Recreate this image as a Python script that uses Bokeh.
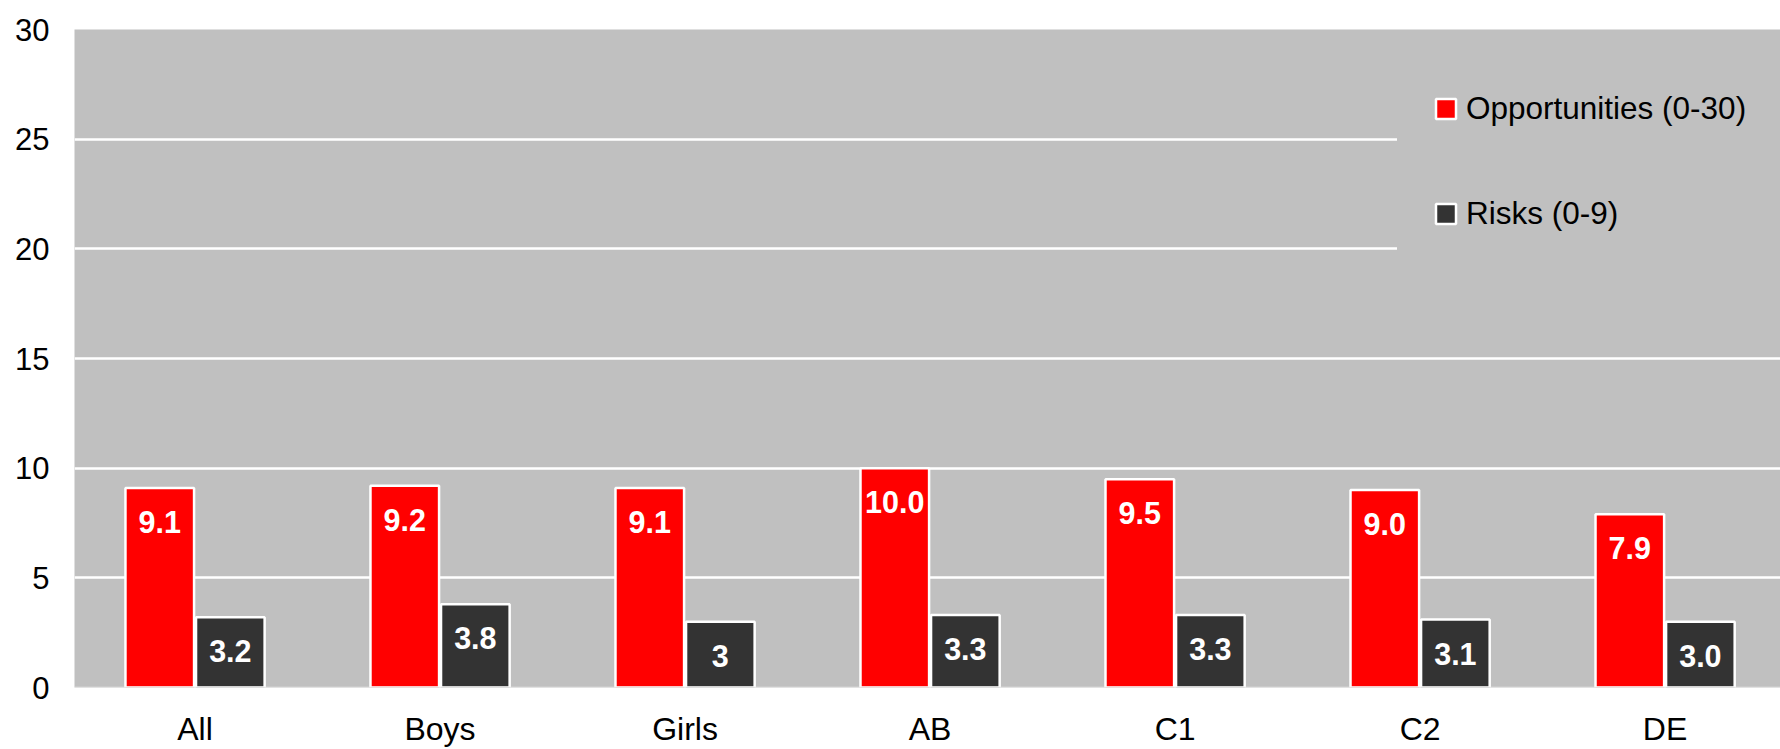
import numpy as np
from bokeh.plotting import figure
from bokeh.models import (ColumnDataSource, Range1d, Legend, LegendItem,
                          Span, FixedTicker)
from bokeh.core.properties import value
from bokeh.embed import file_html
from bokeh.resources import INLINE

# Mean number of online opportunities and risks, by group
groups = ["All", "Boys", "Girls", "AB", "C1", "C2", "DE"]
opportunities = [9.1, 9.2, 9.1, 10.0, 9.5, 9.0, 7.9]
risks = [3.2, 3.8, 3.0, 3.3, 3.3, 3.1, 3.0]
opportunity_labels = ["9.1", "9.2", "9.1", "10.0", "9.5", "9.0", "7.9"]
risk_labels = ["3.2", "3.8", "3", "3.3", "3.3", "3.1", "3.0"]
series_names = ["Opportunities (0-30)", "Risks (0-9)"]
y_ticks = [0, 5, 10, 15, 20, 25, 30]

FONT = "Liberation Sans"
RED = "#ff0000"
DARK = "#333333"
PLOT_BG = "#c0c0c0"

BAR_W = 0.28
OFFSET = 0.144

centers = np.arange(len(groups)) + 0.5
source = ColumnDataSource(dict(
    x_opp=centers - OFFSET,
    x_risk=centers + OFFSET,
    opp=opportunities,
    risk=risks,
    opp_label=opportunity_labels,
    risk_label=risk_labels,
))

p = figure(
    x_range=Range1d(0.008, 6.971),
    y_range=Range1d(0, 30),
    width=1780, height=749,
    output_backend="svg",
    toolbar_location=None,
    min_border_left=74, min_border_right=0,
    min_border_top=29, min_border_bottom=62,
)
p.background_fill_color = PLOT_BG
p.border_fill_color = "white"
p.outline_line_color = None

r_opp = p.vbar(x="x_opp", top="opp", width=BAR_W, source=source,
               fill_color=RED, line_color="white", line_width=2.5)
r_risk = p.vbar(x="x_risk", top="risk", width=BAR_W, source=source,
                fill_color=DARK, line_color="white", line_width=2.5)

label_style = dict(text_color="white", text_font=value(FONT),
                   text_font_style="bold", text_font_size="30.5px",
                   text_align="center", text_baseline="middle",
                   y_offset=34, source=source)
p.text(x="x_opp", y="opp", text="opp_label", **label_style)
p.text(x="x_risk", y="risk", text="risk_label", **label_style)

# baseline along zero
p.add_layout(Span(location=0, dimension="width", line_color="#e6e6e6",
                  line_width=1.5))

# grid
p.xgrid.grid_line_color = None
p.ygrid.grid_line_color = "white"
p.ygrid.grid_line_width = 2.5

# axes
for ax in (p.xaxis[0], p.yaxis[0]):
    ax.axis_line_color = None
    ax.major_tick_line_color = None
    ax.minor_tick_line_color = None
    ax.major_tick_out = 0
    ax.major_tick_in = 0
    ax.major_label_text_font = FONT
    ax.major_label_text_color = "black"
p.xaxis.ticker = FixedTicker(ticks=list(centers))
p.xaxis.major_label_overrides = {float(c): g for c, g in zip(centers, groups)}
p.xaxis.major_label_text_font_size = "32px"
p.xaxis.major_label_standoff = 23
p.yaxis.ticker = FixedTicker(ticks=y_ticks)
p.yaxis.major_label_text_font_size = "31px"
p.yaxis.major_label_standoff = 25

# legend box sits inside the frame, over the upper gridlines; its border
# takes the background colour so that the padding is kept
legend = Legend(
    items=[LegendItem(label=series_names[0], renderers=[r_opp]),
           LegendItem(label=series_names[1], renderers=[r_risk])],
    location=(1323, 419),
    orientation="vertical",
    background_fill_color=PLOT_BG, background_fill_alpha=1.0,
    border_line_color=PLOT_BG, border_line_width=1,
    label_text_font=FONT, label_text_font_size="31.5px",
    label_text_color="black",
    glyph_width=25, glyph_height=25,
    label_standoff=8, padding=35, spacing=68, margin=0,
)
p.add_layout(legend)

open("out.html", "w").write(file_html(p, INLINE))
